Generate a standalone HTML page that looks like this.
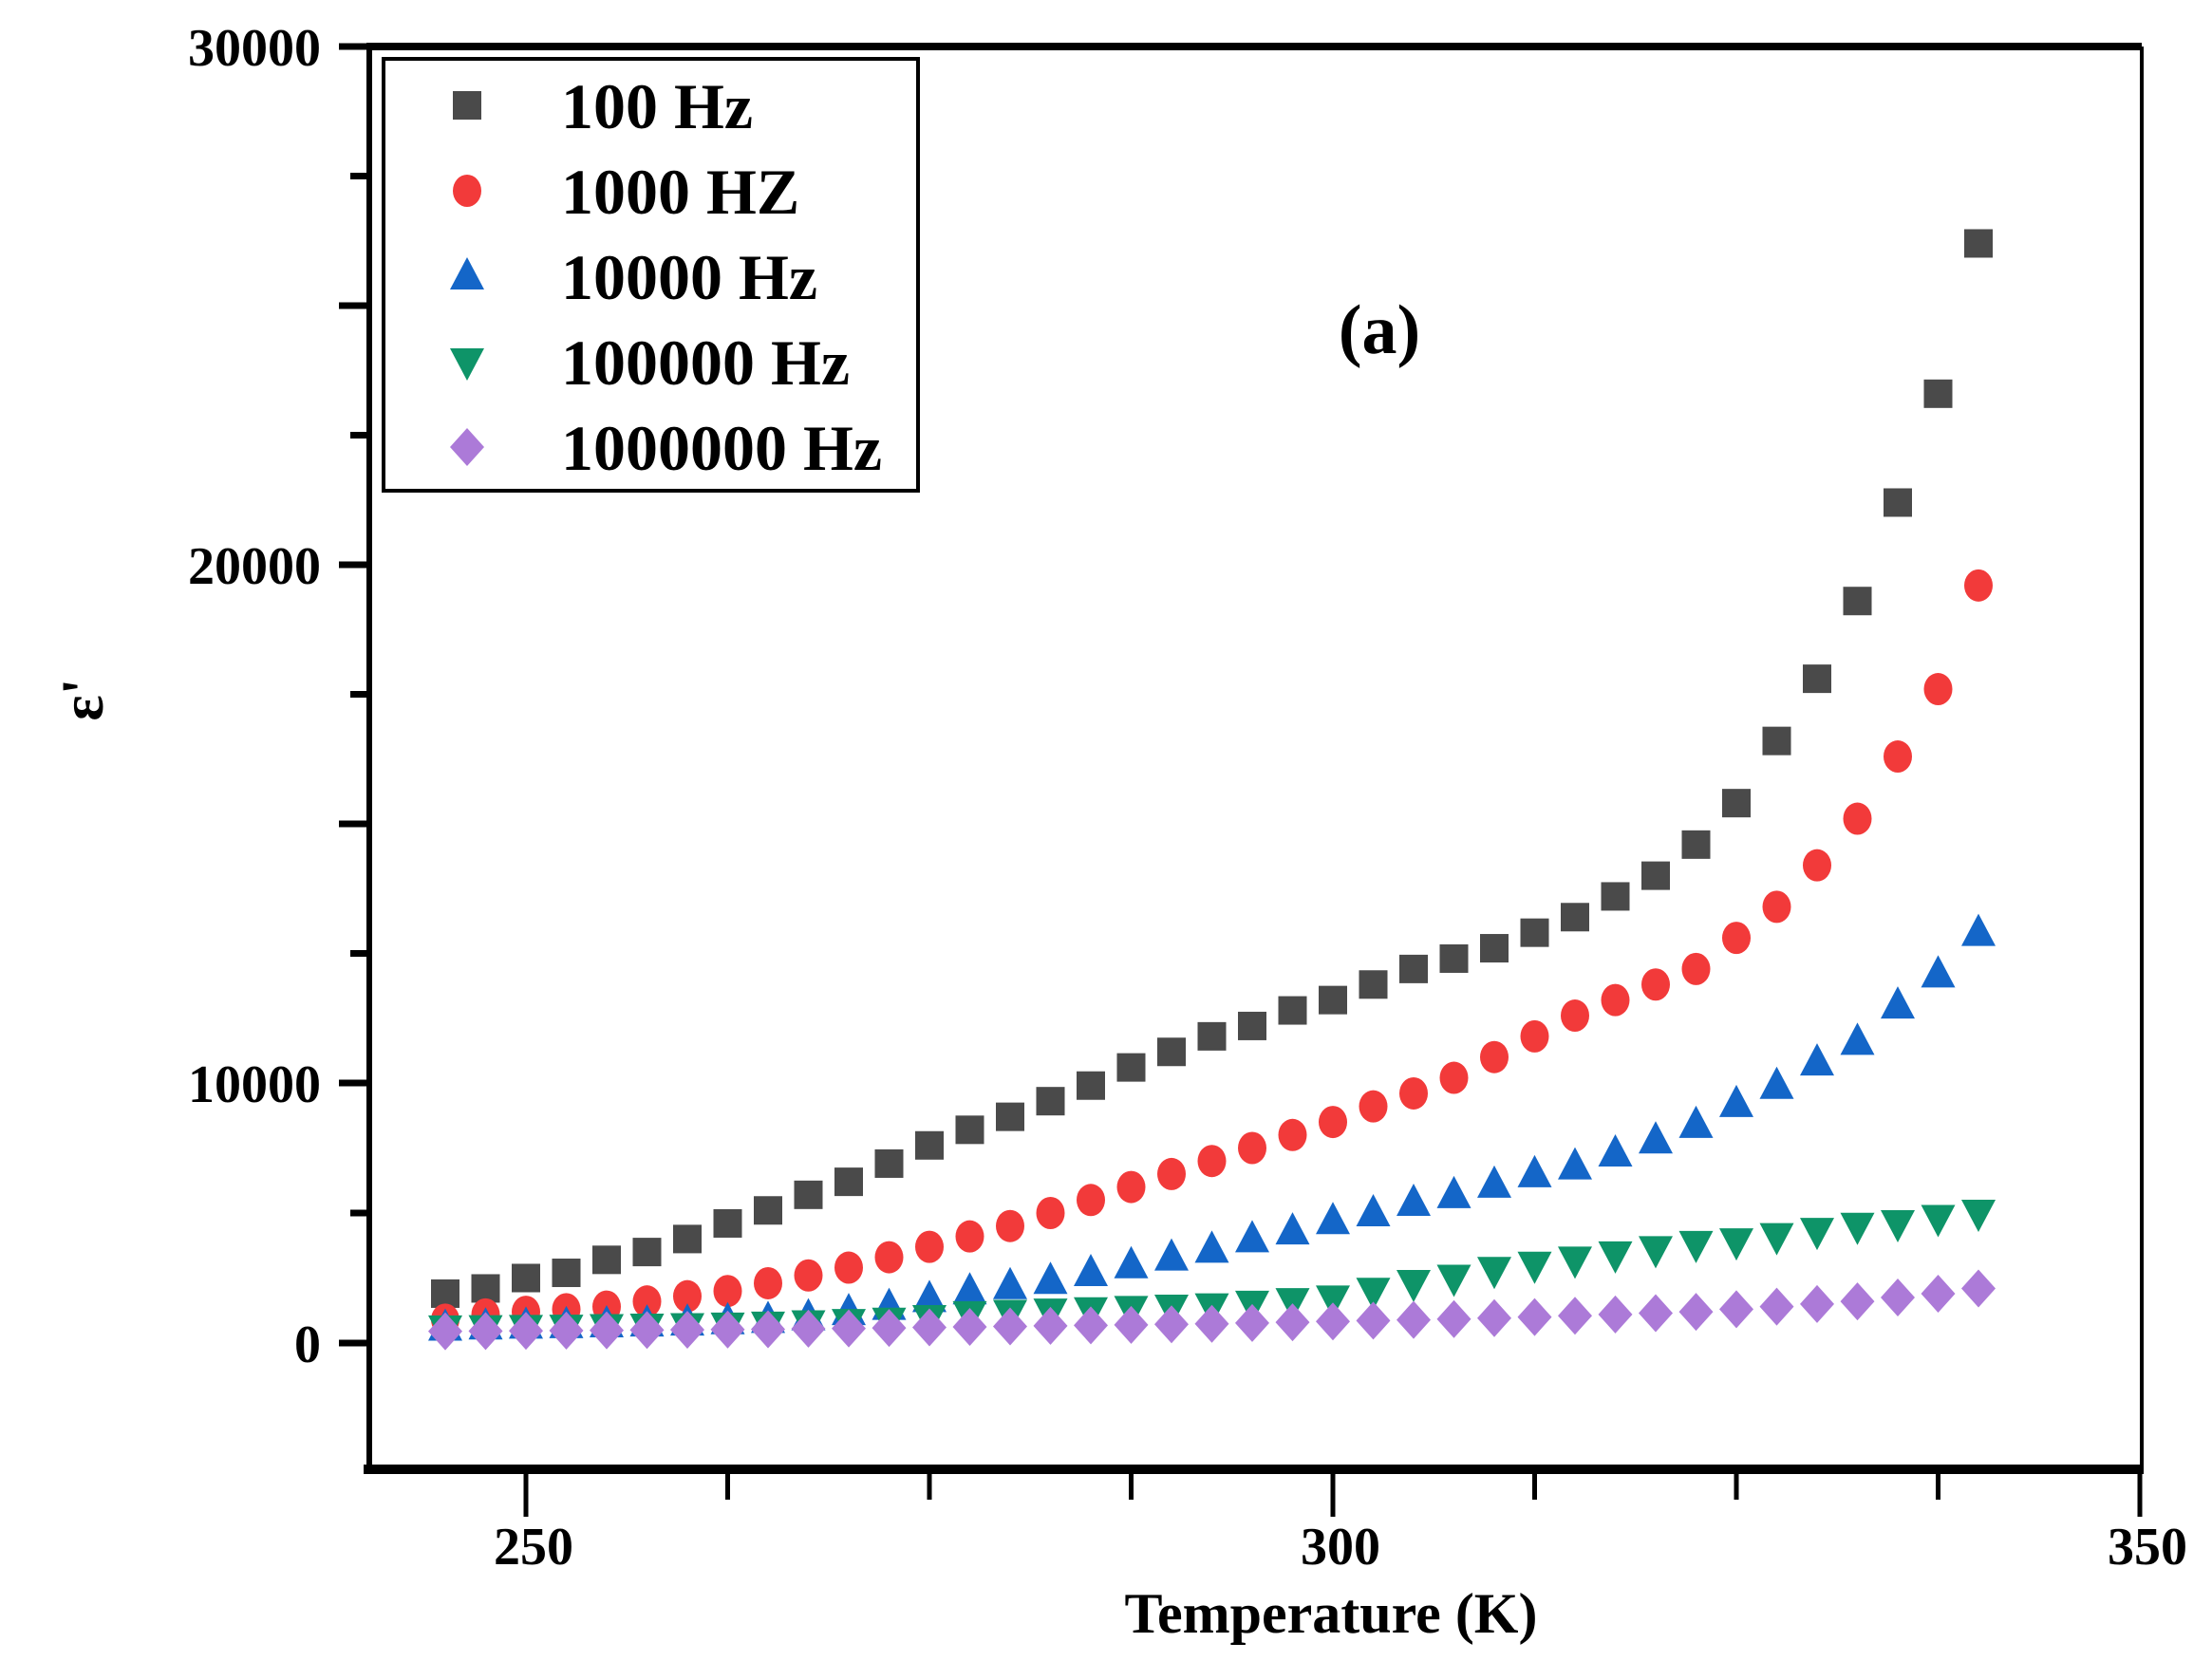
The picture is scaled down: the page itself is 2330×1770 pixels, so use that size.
<!DOCTYPE html>
<html><head><meta charset="utf-8"><style>
html,body{margin:0;padding:0;background:#fff;}
svg{display:block;}
text{font-family:"Liberation Serif",serif;font-weight:bold;fill:#000;}
</style></head><body>
<svg id="chart" width="2330" height="1770" viewBox="0 0 2330 1770"></svg>
<script>
const temps=[245,247.5,250,252.5,255,257.5,260,262.5,265,267.5,270,272.5,275,277.5,280,282.5,285,287.5,290,292.5,295,297.5,300,302.5,305,307.5,310,312.5,315,317.5,320,322.5,325,327.5,330,332.5,335,337.5,340];
const s100=[1900,2100,2500,2700,3200,3500,4000,4600,5100,5700,6200,6900,7600,8200,8700,9300,9900,10300,10600,10900,11100,11400,11600,11900,12200,12400,12600,12900,13200,13600,14000,14600,15400,16600,17800,19300,21200,23300,26200];
const s1000=[900,1100,1200,1300,1400,1600,1800,2000,2300,2600,2900,3300,3700,4100,4500,5000,5500,6000,6500,7000,7500,8000,8500,9100,9600,10100,10500,10900,11300,11600,11900,12200,12800,13400,14200,15100,16300,17600,19600];
const s1e4=[600,650,680,700,730,760,800,850,900,1000,1200,1400,1700,2000,2200,2400,2700,3000,3300,3600,4000,4300,4700,5000,5400,5700,6100,6500,6800,7300,7800,8400,9200,9900,10400,10800,11500,12100,12900];
const s1e5=[550,560,570,580,600,620,640,660,700,750,800,850,950,1100,1150,1200,1250,1300,1350,1400,1500,1600,1700,2000,2300,2500,2800,3000,3200,3400,3600,3800,3900,4100,4300,4500,4600,4800,5000];
const s1e6=[450,460,470,480,490,500,510,520,530,550,560,580,600,620,640,660,680,700,720,740,770,800,830,860,890,920,960,1000,1050,1100,1150,1200,1300,1400,1500,1600,1750,1900,2100];
const yLabels=["30000","20000","10000","0"];
const yLabelVals=[30000,20000,10000,0];
const xLabelVals=[250,300,350];

const NS="http://www.w3.org/2000/svg";
const svg=document.getElementById('chart');
const L=389,R=2256,T=49,B=1548;
function xs(t){return 554+(t-250)*(1404-554)/50;}
function ys(v){ if(v>=10000) return 1141-(v-10000)*(1141-49)/20000; return 1415-v*(1415-1141)/10000;}
function mk(tag,attrs){const e=document.createElementNS(NS,tag);for(const k in attrs)e.setAttribute(k,attrs[k]);svg.appendChild(e);return e;}

let e;
e=mk('line',{x1:L,y1:T,x2:R,y2:T,stroke:'#000','stroke-width':8});


e=mk('line',{x1:R,y1:T,x2:R,y2:B,stroke:'#000','stroke-width':4});


e=mk('line',{x1:L,y1:T-4,x2:L,y2:B,stroke:'#000','stroke-width':6});


e=mk('line',{x1:L-6,y1:B,x2:R+2,y2:B,stroke:'#000','stroke-width':10});



const yt=[[30000,1],[27500,0],[25000,1],[22500,0],[20000,1],[17500,0],[15000,1],[12500,0],[10000,1],[5000,0],[0,1]];
yt.forEach(([v,maj])=>{
  const y=ys(v);
  e=mk('line',{x1:L-(maj?32:20),y1:y,x2:L,y2:y,stroke:'#000','stroke-width':7});
  
  
});
yLabelVals.forEach((v,i)=>{
  e=mk('text',{x:338,y:ys(v)+20,'text-anchor':'end','font-size':56});
  e.textContent=yLabels[i];
  
  
});
for(let t=250;t<=350;t+=12.5){
  const maj=(t%50===0);
  const x=xs(t);
  e=mk('line',{x1:x,y1:B,x2:x,y2:B+(maj?50:32),stroke:'#000','stroke-width':5});
  
  
}
xLabelVals.forEach(t=>{
  e=mk('text',{x:xs(t)+8,y:1648,'text-anchor':'middle','font-size':56});
  e.textContent=String(t);
  
  
});
e=mk('text',{x:1402,y:1720,'text-anchor':'middle','font-size':60});
e.textContent='Temperature (K)';


e=mk('text',{x:0,y:0,'text-anchor':'middle','font-size':64,transform:'translate(108,737) rotate(-90)'});
e.textContent="ε'";


e=mk('text',{x:1453,y:372,'text-anchor':'middle','font-size':74});
e.textContent='(a)';



function marker(type,x,y,color){
  let m;
  if(type==='sq') m=mk('rect',{x:x-15,y:y-15,width:30,height:30,fill:color});
  else if(type==='ci') m=mk('ellipse',{cx:x,cy:y,rx:15,ry:17,fill:color});
  else if(type==='up') m=mk('polygon',{points:`${x},${y-20} ${x+18},${y+14} ${x-18},${y+14}`,fill:color});
  else if(type==='dn') m=mk('polygon',{points:`${x-18},${y-14} ${x+18},${y-14} ${x},${y+20}`,fill:color});
  else m=mk('polygon',{points:`${x},${y-20} ${x+18},${y} ${x},${y+20} ${x-18},${y}`,fill:color});
  return m;
}
const series=[[s100,'sq','#4a4a4a','100'],[s1000,'ci','#f23a3a','1000'],[s1e4,'up','#1466c8','10000'],[s1e5,'dn','#0e9468','100000'],[s1e6,'di','#ac7ad8','1000000']];
series.forEach(([vals,type,color,name])=>{
  vals.forEach((v,i)=>{
    const m=marker(type,xs(temps[i]),ys(v),color);
    
    
  });
});

e=mk('rect',{x:404,y:62,width:563,height:455,fill:'#fff',stroke:'#000','stroke-width':4});


const legLabels=['100 Hz','1000 HZ','10000 Hz','100000 Hz','1000000 Hz'];
legLabels.forEach((lab,i)=>{
  const y=111+i*90;
  const m=marker(series[i][1],492,y,series[i][2]);
  
  
  const t=mk('text',{x:591,y:y+24,'font-size':68});
  t.textContent=lab;
  
  
});
</script>
</body></html>
